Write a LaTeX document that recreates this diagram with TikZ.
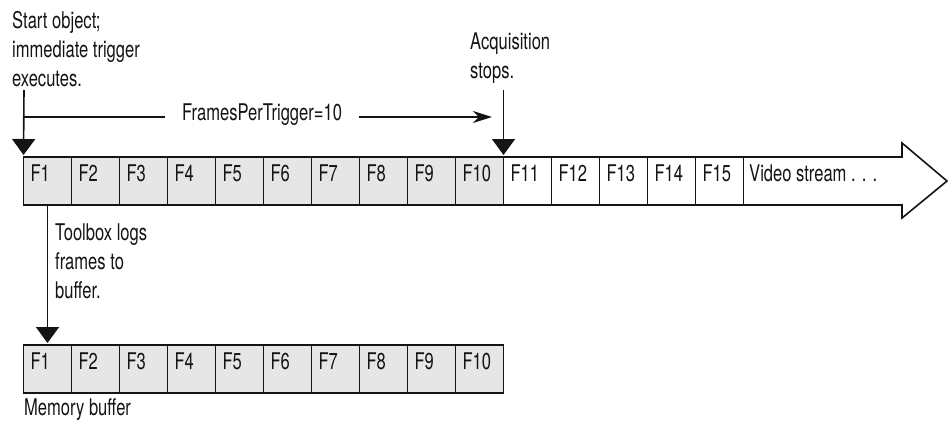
\documentclass[tikz,border=0pt]{standalone}
\usepackage{fontspec}
\setmainfont{TeX Gyre Heros}[FakeStretch=0.72]
\usetikzlibrary{arrows.meta}
\definecolor{cellgray}{RGB}{230,230,230}
\definecolor{ink}{RGB}{20,20,20}
\begin{document}
\begin{tikzpicture}[x=1pt,y=-1pt,
  txt/.style={font=\fontsize{23}{29}\selectfont, inner sep=0pt, align=left, text=ink},
  cell/.style={draw=ink, line width=1.6pt, anchor=north west, outer sep=0pt,
    minimum width=48pt, minimum height=48pt, inner xsep=7pt, inner ysep=7pt,
    text width=34pt, text height=17pt, text depth=17pt, align=left,
    font=\fontsize{23}{29}\selectfont, text=ink},
  conn/.style={draw=ink, line width=1.6pt},
  tri/.style={conn, -{Triangle[length=16pt,width=23pt]}, shorten >=2pt},
  stealthy/.style={conn, -{Stealth[length=19pt,width=12pt,inset=6pt]}}]
\useasboundingbox (0,0) rectangle (949,421);

% top row (video stream)
\foreach \i in {1,...,15}{
  \ifnum\i<11 \def\fc{cellgray}\else\def\fc{white}\fi
  \node[cell, fill=\fc] (t\i) at ({23.5+48*(\i-1)},157) {F\i};
}
% stream arrow outline
\draw[conn, line join=miter] (t15.north east) -- (902,157) -- (902,143) -- (947,181)
  -- (902,218) -- (902,205) -- (t15.south east);
\node[txt, anchor=base west] (stream) at (749,181) {Video stream . . .};

% memory buffer row
\foreach \i in {1,...,10}{
  \node[cell, fill=cellgray] (b\i) at ({23.5+48*(\i-1)},345) {F\i};
}
\node[txt, anchor=base west] (membuf) at (24,415) {Memory buffer};

% labels
\node[txt, anchor=north west] (start) at (12,11.5) {Start object;\\immediate trigger\\executes.};
\node[txt, anchor=north west] (acq) at (470,32.5) {Acquisition\\stops.};
\node[txt, anchor=north west] (logs) at (55,223.5) {Toolbox logs\\frames to\\buffer.};
\node[txt, anchor=base west, inner xsep=17pt] (fpt) at (165,120) {FramesPerTrigger=10};

% connectors
\coordinate (a0) at (24,90);
\coordinate (s0) at (503.5,90);
\coordinate (h0) at (24,117);
\coordinate (h1) at (492,117);
\draw[tri] (a0) -- (t1.north west);
\draw[tri] (s0) -- (t10.north east);
\draw[conn] (h0) -- (fpt.west |- h0);
\draw[stealthy] (fpt.east |- h0) -- (h1);
\draw[tri] (t1.south) -- (b1.north);
\end{tikzpicture}
\end{document}
